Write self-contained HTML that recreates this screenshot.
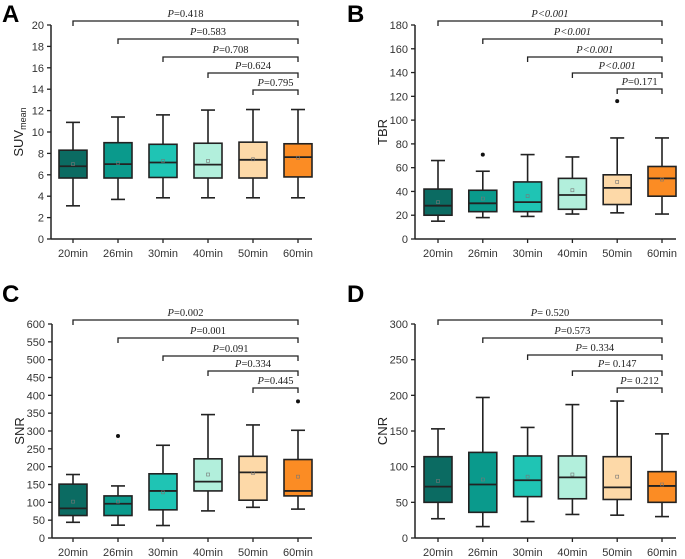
<!DOCTYPE html>
<html><head><meta charset="utf-8"><style>
html,body{margin:0;padding:0;background:#fff;}
svg{display:block;font-family:"Liberation Sans",sans-serif;}
</style></head><body>
<svg id="fig" width="685" height="559" viewBox="0 0 685 559"></svg>
<script>
const categories = ["20min","26min","30min","40min","50min","60min"];
const colors = ["#0b6b62","#0a9a8c","#1fc4b4","#b2efdc","#fdd9a8","#fb8c24"];
// [min, q1, median, q3, max, mean]
const suvStats = [[3.1,5.7,6.8,8.3,10.9,7.0],[3.7,5.7,7.0,9.0,11.4,7.1],[3.85,5.75,7.15,8.85,11.6,7.3],[3.85,5.7,6.95,8.95,12.05,7.3],[3.85,5.7,7.4,9.05,12.1,7.45],[3.85,5.8,7.65,8.9,12.1,7.6]];
const suvOutliers = [[],[],[],[],[],[]];
const suvPvals = ["=0.418","=0.583","=0.708","=0.624","=0.795"];
const tbrStats = [[15,20,28,42,66,31],[18,23,30,41,57,34],[19,23,31,48,71,36],[21,25,37,51,69,41],[22,29,43,54,85,48],[21,36,51,61,85,50]];
const tbrOutliers = [[],[71],[],[],[116],[]];
const tbrPvals = ["<0.001","<0.001","<0.001","<0.001","=0.171"];
const snrStats = [[44,63,83,151,178,102],[36,63,96,118,146,102],[35,79,132,180,260,128],[76,132,158,222,346,178],[86,106,184,229,317,182],[81,118,132,220,302,172]];
const snrOutliers = [[],[286],[],[],[],[383]];
const snrPvals = ["=0.002","=0.001","=0.091","=0.334","=0.445"];
const cnrStats = [[27,50,72,114,153,80],[16,36,75,120,197,82],[23,58,81,115,155,86],[33,55,85,115,187,89],[32,54,71,114,192,86],[30,50,73,93,146,75]];
const cnrOutliers = [[],[],[],[],[],[]];
const cnrPvals = ["= 0.520","=0.573","= 0.334","= 0.147","= 0.212"];
const suvTicks = [0,2,4,6,8,10,12,14,16,18,20];
const tbrTicks = [0,20,40,60,80,100,120,140,160,180];
const snrTicks = [0,50,100,150,200,250,300,350,400,450,500,550,600];
const cnrTicks = [0,50,100,150,200,250,300];

const NS="http://www.w3.org/2000/svg";
const svg=document.getElementById('fig');
function mk(tag,attrs,parent,text){const e=document.createElementNS(NS,tag);for(const k in attrs)e.setAttribute(k,attrs[k]);if(text!==undefined)e.textContent=text;(parent||svg).appendChild(e);return e;}

function panel(o){
  const g=mk('g',{});
  
  
  const ymax=o.ticks[o.ticks.length-1];
  const yS=v=>o.y0-(v/ymax)*(o.y0-o.yTop);
  const xS=i=>o.x20+i*(o.x60-o.x20)/5;
  const letter=mk('text',{x:o.lx,y:o.ly,'font-size':24,'font-weight':'bold','font-family':'"Liberation Sans Narrow","Liberation Sans",sans-serif'},g,o.letter);
  
  
  // axes
  const ya=mk('line',{x1:o.ax,y1:o.yTop,x2:o.ax,y2:o.y0,stroke:'#222','stroke-width':1.5},g);
  
  
  const xa=mk('line',{x1:o.ax,y1:o.y0,x2:o.x60+14,y2:o.y0,stroke:'#222','stroke-width':1.5},g);
  
  
  o.ticks.forEach(t=>{
    const y=yS(t);
    mk('line',{x1:o.ax-4,y1:y,x2:o.ax,y2:y,stroke:'#222','stroke-width':1.3},g);
    const tl=mk('text',{x:o.ax-7,y:y+4,'font-size':11,'text-anchor':'end',fill:'#333'},g,String(t));
    
    
  });
  const yt=mk('text',{x:0,y:0,'font-size':13,'text-anchor':'middle',fill:'#222',transform:`translate(${o.ax-28},${(o.yTop+o.y0)/2}) rotate(-90)`},g);
  
  
  if(o.ytitle==='SUV'){yt.textContent='SUV';const s=mk('tspan',{'font-size':9,dy:3},yt,'mean');}
  else yt.textContent=o.ytitle;
  categories.forEach((c,i)=>{
    const x=xS(i);
    mk('line',{x1:x,y1:o.y0,x2:x,y2:o.y0+4,stroke:'#222','stroke-width':1.3},g);
    const xl=mk('text',{x:x,y:o.y0+18,'font-size':11,'text-anchor':'middle',fill:'#333'},g,c);
    
    
    const s=o.stats[i];const w=28;
    const bg=mk('g',{},g);
    
    
    mk('line',{x1:x,y1:yS(s[4]),x2:x,y2:yS(s[3]),stroke:'#222','stroke-width':1.6},bg);
    mk('line',{x1:x,y1:yS(s[1]),x2:x,y2:yS(s[0]),stroke:'#222','stroke-width':1.6},bg);
    mk('line',{x1:x-7,y1:yS(s[4]),x2:x+7,y2:yS(s[4]),stroke:'#222','stroke-width':1.6},bg);
    mk('line',{x1:x-7,y1:yS(s[0]),x2:x+7,y2:yS(s[0]),stroke:'#222','stroke-width':1.6},bg);
    mk('rect',{x:x-w/2,y:yS(s[3]),width:w,height:yS(s[1])-yS(s[3]),fill:colors[i],stroke:'#222','stroke-width':1.6},bg);
    mk('line',{x1:x-w/2,y1:yS(s[2]),x2:x+w/2,y2:yS(s[2]),stroke:'#222','stroke-width':1.8},bg);
    mk('rect',{x:x-1.5,y:yS(s[5])-1.5,width:3,height:3,fill:'none',stroke:'#777','stroke-width':0.6},bg);
    o.outliers[i].forEach(v=>{
      const p=mk('circle',{cx:x,cy:yS(v),r:2,fill:'#111'},bg);
      
      
    });
  });
  o.pvals.forEach((p,k)=>{
    const y=o.by[k];const x1=xS(k),x2=xS(5);
    const bk=mk('path',{d:`M${x1},${y+5}V${y}H${x2}V${y+5}`,fill:'none',stroke:'#222','stroke-width':1.3},g);
    
    
    const t=mk('text',{x:(x1+x2)/2,y:y-4,'font-size':10.5,'text-anchor':'middle','font-family':'"Liberation Serif",serif',fill:'#222'},g);
    
    
    mk('tspan',{'font-style':'italic'},t,'P');
    mk('tspan',{'font-style':p[0]==='<'?'italic':'normal'},t,p);
  });
}
panel({name:'suv',letter:'A',lx:2,ly:22,ax:51,x20:73,x60:298,yTop:25,y0:239,ticks:suvTicks,stats:suvStats,outliers:suvOutliers,pvals:suvPvals,by:[21,39,57,73,90],ytitle:'SUV'});
panel({name:'tbr',letter:'B',lx:347,ly:22,ax:415,x20:438,x60:662,yTop:25,y0:239,ticks:tbrTicks,stats:tbrStats,outliers:tbrOutliers,pvals:tbrPvals,by:[21,39,57,73,89],ytitle:'TBR'});
panel({name:'snr',letter:'C',lx:2,ly:302,ax:52,x20:73,x60:298,yTop:324,y0:538,ticks:snrTicks,stats:snrStats,outliers:snrOutliers,pvals:snrPvals,by:[320,338,356,371,388],ytitle:'SNR'});
panel({name:'cnr',letter:'D',lx:347,ly:302,ax:415,x20:438,x60:662,yTop:324,y0:538,ticks:cnrTicks,stats:cnrStats,outliers:cnrOutliers,pvals:cnrPvals,by:[320,338,355,371,388],ytitle:'CNR'});
</script>
</body></html>
